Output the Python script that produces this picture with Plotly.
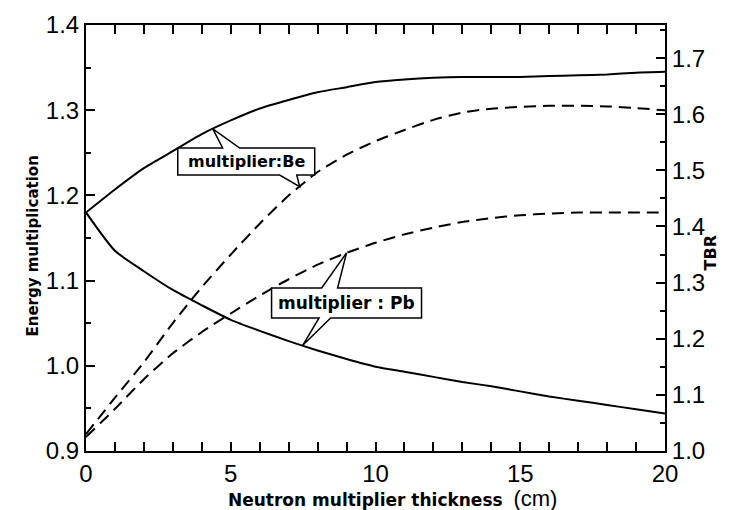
import numpy as np
import plotly.graph_objects as go

# Neutron multiplier thickness (cm)
thickness = list(range(0, 21))

# Energy multiplication (left axis)
em_be = [1.180, 1.207, 1.232, 1.252, 1.272, 1.288, 1.302, 1.312, 1.321, 1.327, 1.333,
         1.336, 1.338, 1.339, 1.339, 1.339, 1.340, 1.341, 1.342, 1.344, 1.345]
em_pb = [1.180, 1.135, 1.111, 1.089, 1.071, 1.054, 1.041, 1.029, 1.018, 1.008, 0.999,
         0.993, 0.987, 0.981, 0.976, 0.970, 0.964, 0.959, 0.954, 0.949, 0.944]

# Tritium breeding ratio (right axis)
tbr_be = [1.030, 1.095, 1.158, 1.228, 1.292, 1.350, 1.405, 1.455, 1.497, 1.528, 1.552,
          1.572, 1.590, 1.603, 1.610, 1.613, 1.615, 1.615, 1.614, 1.611, 1.607]
tbr_pb = [1.025, 1.075, 1.128, 1.174, 1.212, 1.245, 1.277, 1.306, 1.332, 1.353, 1.371,
          1.386, 1.398, 1.408, 1.415, 1.420, 1.423, 1.425, 1.425, 1.425, 1.425]

y_left_ticks = [0.9, 1.0, 1.1, 1.2, 1.3, 1.4]
y_right_ticks = [1.0, 1.1, 1.2, 1.3, 1.4, 1.5, 1.6, 1.7]
x_ticks = [0, 5, 10, 15, 20]

Y_RANGE = [0.9, 1.4]
Y2_RANGE = [1.0, 1.759]

TICK_FONT = dict(family="Liberation Sans, Arial, sans-serif", size=24, color="black")
BOLD = "DejaVu Sans, sans-serif"


def to_left(v):
    """Express a right-axis (TBR) value in left-axis units."""
    return Y_RANGE[0] + (v - Y2_RANGE[0]) / (Y2_RANGE[1] - Y2_RANGE[0]) * (Y_RANGE[1] - Y_RANGE[0])


fig = go.Figure()
solid = dict(color="black", width=2)
dashed = dict(color="black", width=2, dash="12px,7px")
fig.add_trace(go.Scatter(x=thickness, y=em_be, mode="lines", line=dict(**solid, shape="spline", smoothing=0.6)))
fig.add_trace(go.Scatter(x=thickness, y=em_pb, mode="lines", line=dict(**solid, shape="spline", smoothing=0.6)))
fig.add_trace(go.Scatter(x=thickness, y=tbr_be, mode="lines", yaxis="y2",
                         line=dict(**dashed, shape="spline", smoothing=0.6)))
fig.add_trace(go.Scatter(x=thickness, y=tbr_pb, mode="lines", yaxis="y2",
                         line=dict(**dashed, shape="spline", smoothing=0.6)))


def callout(box, top_base, top_tip, bot_base, bot_tip):
    """Closed outline of a label box with one pointer above and one below."""
    x0, x1, y0, y1 = box
    pts = [(x0, y1), (top_base[0], y1), top_tip, (top_base[1], y1), (x1, y1),
           (x1, y0), (bot_base[1], y0), bot_tip, (bot_base[0], y0), (x0, y0)]
    return "M " + " L ".join(f"{px},{py}" for px, py in pts) + " Z"


# pointer tips sit on the curves
be_top = (4.38, float(np.interp(4.38, thickness, em_be)))
be_bot = (7.38, to_left(float(np.interp(7.38, thickness, tbr_be))))
pb_top = (9.0, to_left(float(np.interp(9.0, thickness, tbr_pb))))
pb_bot = (7.48, float(np.interp(7.48, thickness, em_pb)))

shapes = [
    dict(type="path", xref="x", yref="y", layer="above", fillcolor="white",
         line=dict(color="black", width=1.5),
         path=callout((3.17, 7.90, 1.2239, 1.2556), (4.72, 5.31), be_top, (6.69, 7.28), be_bot)),
    dict(type="path", xref="x", yref="y", layer="above", fillcolor="white",
         line=dict(color="black", width=1.5),
         path=callout((6.41, 11.59, 1.0561, 1.0913), (8.14, 8.69), pb_top, (8.05, 8.45), pb_bot)),
]

annotations = [
    dict(x=5.55, y=1.2395, xref="x", yref="y", text="<b>multiplier:Be</b>", showarrow=False,
         font=dict(family=BOLD, size=16, color="black")),
    dict(x=9.0, y=1.0737, xref="x", yref="y", text="<b>multiplier : Pb</b>", showarrow=False,
         font=dict(family=BOLD, size=17, color="black")),
    dict(x=0, y=0.48, xref="paper", yref="paper", xshift=-64, textangle=-90,
         text="<b>Energy multiplication</b>", showarrow=False,
         font=dict(family=BOLD, size=15, color="black")),
    dict(x=1, y=0.465, xref="paper", yref="paper", xshift=57, textangle=-90,
         text="<b>TBR</b>", showarrow=False, font=dict(family=BOLD, size=16, color="black")),
    dict(x=0.529, y=0, xref="paper", yref="paper", yshift=-47, yanchor="middle",
         text="<b>Neutron multiplier thickness</b>  "
              "<span style='font-family:Liberation Sans;font-weight:normal;font-size:22px'>(cm)</span>",
         showarrow=False, font=dict(family=BOLD, size=17, color="black")),
]

axis_common = dict(showline=True, linecolor="black", linewidth=2, ticks="inside",
                   tickcolor="black", tickwidth=1.5, ticklen=9, showgrid=False,
                   zeroline=False, tickfont=TICK_FONT)

fig.update_layout(
    width=731, height=510,
    margin=dict(l=86, r=66, t=25, b=59),
    paper_bgcolor="white", plot_bgcolor="white",
    showlegend=False,
    shapes=shapes, annotations=annotations,
    xaxis=dict(range=[0, 20], tickvals=x_ticks, ticktext=[str(v) for v in x_ticks],
               mirror="allticks",
               minor=dict(ticks="inside", dtick=1, ticklen=5, tickcolor="black", tickwidth=1.5),
               **axis_common),
    yaxis=dict(range=Y_RANGE, tickvals=y_left_ticks, ticktext=[f"{v:.1f}" for v in y_left_ticks],
               minor=dict(ticks="inside", dtick=0.05, ticklen=5, tickcolor="black", tickwidth=1.5),
               **axis_common),
    yaxis2=dict(range=Y2_RANGE, overlaying="y", side="right",
                tickvals=y_right_ticks, ticktext=[f"{v:.1f}" for v in y_right_ticks],
                minor=dict(ticks="inside", dtick=0.05, ticklen=5, tickcolor="black", tickwidth=1.5),
                **axis_common),
)

fig.write_html("out.html")
